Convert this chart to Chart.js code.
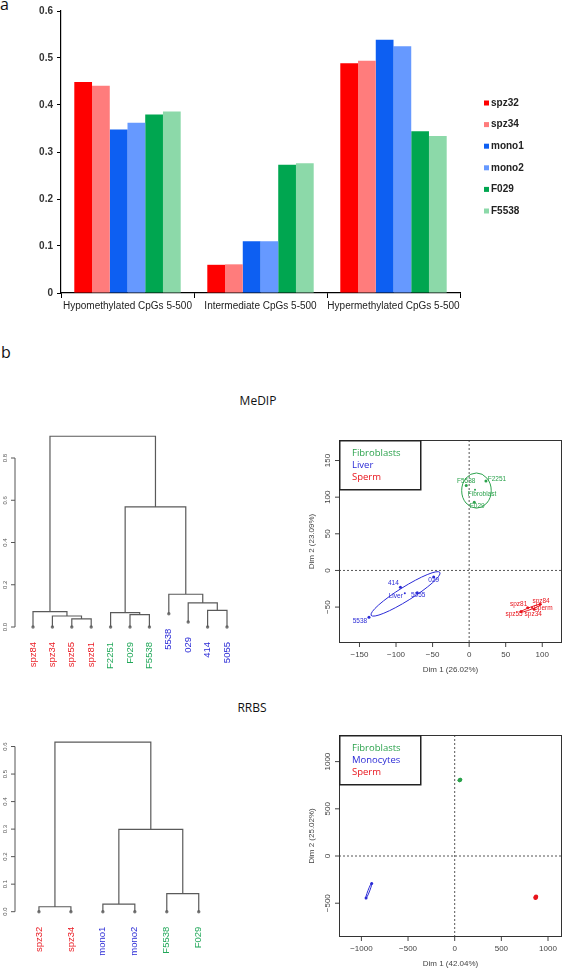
<!DOCTYPE html>
<html>
<head>
<meta charset="utf-8">
<script src="https://cdn.jsdelivr.net/npm/chart.js@4.4.1/dist/chart.umd.min.js"></script>
<style>
  html, body { margin: 0; padding: 0; background: #fff; overflow: hidden; }
  #page { position: relative; width: 566px; height: 969px; }
  canvas { position: absolute; }
  .lbl { position: absolute; font-family: 'Open Sans', sans-serif; color: #111; line-height: 1; white-space: nowrap; }
</style>
</head>
<body>
<div id="page">
  <div class="lbl" style="left:0;top:-4px;font-size:16px">a</div>
  <div class="lbl" style="left:1px;top:344px;font-size:16px">b</div>
  <div class="lbl" style="left:218px;width:80px;text-align:center;top:395px;font-size:12px">MeDIP</div>
  <div class="lbl" style="left:212px;width:80px;text-align:center;top:702px;font-size:12px">RRBS</div>
  <canvas id="bars" width="566" height="330" style="left:0;top:0"></canvas>
  <canvas id="dendMedip" width="280" height="265" style="left:0;top:410px"></canvas>
  <canvas id="pcaMedip" width="276" height="245" style="left:290px;top:430px"></canvas>
  <canvas id="dendRrbs" width="280" height="254" style="left:0;top:715px"></canvas>
  <canvas id="pcaRrbs" width="276" height="244" style="left:290px;top:725px"></canvas>
</div>
<script>
// ---- panel a: fraction of CpGs per methylation class ----
const barCategories = ['Hypomethylated CpGs 5-500', 'Intermediate CpGs 5-500', 'Hypermethylated CpGs 5-500'];
const barSamples = ['spz32', 'spz34', 'mono1', 'mono2', 'F029', 'F5538'];
const spz32Vals = [0.449, 0.060, 0.489];
const spz34Vals = [0.441, 0.061, 0.494];
const mono1Vals = [0.348, 0.110, 0.539];
const mono2Vals = [0.362, 0.110, 0.525];
const f029Vals = [0.380, 0.273, 0.344];
const f5538Vals = [0.386, 0.276, 0.334];
const barTicks = [0, 0.1, 0.2, 0.3, 0.4, 0.5, 0.6];

// ---- panel b: dendrograms (R hclust style merge matrix) ----
const medipLeaves = ['spz84', 'spz34', 'spz55', 'spz81', 'F2251', 'F029', 'F5538', '5538', '029', '414', '5055'];
const medipLeafGroup = ['s', 's', 's', 's', 'f', 'f', 'f', 'l', 'l', 'l', 'l'];
const medipLeafHeight = [0, 0, 0, 0, 0, 0, 0, 0.063, 0.024, 0, 0];
const medipMerge = [[-3, -4], [-2, 1], [-1, 2], [-6, -7], [-5, 4], [-10, -11], [-9, 6], [-8, 7], [5, 8], [3, 9]];
const medipHeight = [0.038, 0.052, 0.073, 0.059, 0.068, 0.079, 0.114, 0.155, 0.569, 0.903];
const medipDendTicks = [0, 0.2, 0.4, 0.6, 0.8];

const rrbsLeaves = ['spz32', 'spz34', 'mono1', 'mono2', 'F5538', 'F029'];
const rrbsLeafGroup = ['s', 's', 'l', 'l', 'f', 'f'];
const rrbsLeafHeight = [0, 0, 0, 0, 0, 0];
const rrbsMerge = [[-1, -2], [-3, -4], [-5, -6], [2, 3], [1, 4]];
const rrbsHeight = [0.018, 0.0275, 0.066, 0.299, 0.616];
const rrbsDendTicks = [0, 0.1, 0.2, 0.3, 0.4, 0.5, 0.6];

// ---- panel b: PCA individuals ----
const medipLegend = ['Fibroblasts', 'Liver', 'Sperm'];
const medipFibroNames = ['F2251', 'F5538', 'F029'];
const medipFibroX = [23, -4, 7];
const medipFibroY = [122, 116, 93];
const medipLiverNames = ['414', '029', '5055', '5538'];
const medipLiverX = [-94, -48.5, -71, -137];
const medipLiverY = [-23, -9, -30.5, -64];
const medipSpermNames = ['spz81', 'spz84', 'spz55', 'spz34'];
const medipSpermX = [80, 97, 71, 89];
const medipSpermY = [-51, -46, -56, -53];
const medipBaryNames = ['Fibroblast', 'Liver', 'Sperm'];
const medipBaryX = [8, -88, 86];
const medipBaryY = [110, -31, -51];
// confidence ellipses: centre, major semi-axis vector, minor/major ratio
const medipEllCx = [10, -87, 84.5];
const medipEllCy = [109, -32, -51.5];
const medipEllAx = [0, 47, 14.5];
const medipEllAy = [24, 29.3, 5.5];
const medipEllRatio = [0.84, 0.17, 0.1];
const medipXTicks = [-150, -100, -50, 0, 50, 100];
const medipYTicks = [-50, 0, 50, 100, 150];

const rrbsLegend = ['Fibroblasts', 'Monocytes', 'Sperm'];
const rrbsFibroX = [52, 60];
const rrbsFibroY = [803, 808];
const rrbsMonoX = [-950, -890];
const rrbsMonoY = [-445, -290];
const rrbsSpermX = [866, 872];
const rrbsSpermY = [-442, -432];
const rrbsEllCx = [56, -920, 869];
const rrbsEllCy = [805, -367, -437];
const rrbsEllAx = [12, 33, 10];
const rrbsEllAy = [16, 85, 18];
const rrbsEllRatio = [0.8, 0.1, 0.8];
const rrbsXTicks = [-1000, -500, 0, 500, 1000];
const rrbsYTicks = [-500, 0, 500, 1000];

const SANS = "'Liberation Sans', Arial, sans-serif";
const HUMAN = "'Open Sans', sans-serif";
const barColors = ['#ff0000', '#ff7c7c', '#0d5ff2', '#6699ff', '#00a650', '#8cd9a9'];
const groupText = { s: '#ea1c24', f: '#22a85a', l: '#2a2ad6' };
const pcaColors = ['#2ba24c', '#2a2ad6', '#e8141c'];

Chart.defaults.animation = false;
Chart.defaults.responsive = false;
Chart.defaults.devicePixelRatio = 1;
Chart.defaults.plugins.legend.display = false;
Chart.defaults.plugins.tooltip.enabled = false;
Chart.defaults.font.family = SANS;

// ---------- bar chart ----------
const barSeries = [spz32Vals, spz34Vals, mono1Vals, mono2Vals, f029Vals, f5538Vals];

const sideLegend = {
  id: 'sideLegend',
  afterDraw(chart) {
    const ctx = chart.ctx;
    ctx.save();
    ctx.font = 'bold 10px ' + SANS;
    ctx.textBaseline = 'middle';
    chart.data.datasets.forEach((ds, i) => {
      const y = 103 + i * 21.6;
      ctx.fillStyle = ds.backgroundColor;
      ctx.fillRect(484, y - 2.5, 5, 5);
      ctx.fillStyle = '#222';
      ctx.fillText(ds.label, 491, y);
    });
    ctx.restore();
  }
};

new Chart(document.getElementById('bars'), {
  type: 'bar',
  data: {
    labels: barCategories,
    datasets: barSamples.map((s, i) => ({
      label: s,
      data: barSeries[i],
      backgroundColor: barColors[i],
      borderWidth: 0,
      categoryPercentage: 0.8,
      barPercentage: 1.0
    }))
  },
  options: {
    layout: { padding: { top: 11, right: 106, left: 0, bottom: 0 } },
    scales: {
      x: {
        grid: { drawOnChartArea: false, offset: true, tickLength: 5, color: '#000' },
        border: { color: '#000', width: 1.2 },
        ticks: { color: '#222', font: { size: 10 }, padding: 2, maxRotation: 0, autoSkip: false },
        afterFit: s => { s.height = 37; }
      },
      y: {
        min: 0, max: 0.6,
        afterBuildTicks: s => { s.ticks = barTicks.map(v => ({ value: v })); },
        ticks: { color: '#333', font: { size: 10, weight: 'bold' }, padding: 4,
                 callback: v => v === 0 ? '0' : v.toFixed(1) },
        grid: { drawOnChartArea: false, tickLength: 4, color: '#000' },
        border: { color: '#000', width: 1.2 },
        afterFit: s => { s.width = 61; }
      }
    }
  },
  plugins: [sideLegend]
});

// ---------- dendrograms ----------
function dendroSegments(merge, height, leafHeight) {
  const mx = [];
  const pts = [];
  const node = k => k < 0 ? [-k, leafHeight[-k - 1]] : [mx[k - 1], height[k - 1]];
  merge.forEach(([a, b], i) => {
    const [xa, ya] = node(a);
    const [xb, yb] = node(b);
    const h = height[i];
    pts.push({ x: xa, y: ya }, { x: xa, y: h }, { x: xb, y: h }, { x: xb, y: yb }, { x: xb, y: null });
    mx.push((xa + xb) / 2);
  });
  return pts;
}

function dendroChart(id, leaves, groups, leafHeight, merge, height, ticks, xMax, yMax, padding) {
  const decor = {
    id: 'decor_' + id,
    afterDatasetsDraw(chart) {
      const { ctx, scales: { x, y } } = chart;
      const ax = 15;
      ctx.save();
      ctx.strokeStyle = '#555';
      ctx.lineWidth = 1;
      ctx.beginPath();
      ctx.moveTo(ax, y.getPixelForValue(ticks[0]));
      ctx.lineTo(ax, y.getPixelForValue(ticks[ticks.length - 1]));
      ticks.forEach(t => {
        const py = y.getPixelForValue(t);
        ctx.moveTo(ax, py);
        ctx.lineTo(ax - 4, py);
      });
      ctx.stroke();
      ctx.fillStyle = '#555';
      ctx.font = '6px ' + SANS;
      ctx.textAlign = 'center';
      ctx.textBaseline = 'middle';
      ticks.forEach(t => {
        ctx.save();
        ctx.translate(ax - 10, y.getPixelForValue(t));
        ctx.rotate(-Math.PI / 2);
        ctx.fillText(t.toFixed(1), 0, 0);
        ctx.restore();
      });
      ctx.font = '9.5px ' + SANS;
      ctx.textAlign = 'right';
      leaves.forEach((name, i) => {
        ctx.save();
        ctx.translate(x.getPixelForValue(i + 1), y.getPixelForValue(leafHeight[i]) + 15);
        ctx.rotate(-Math.PI / 2);
        ctx.fillStyle = groupText[groups[i]];
        ctx.fillText(name, 0, 0);
        ctx.restore();
      });
      ctx.restore();
    }
  };
  new Chart(document.getElementById(id), {
    type: 'scatter',
    data: {
      datasets: [
        {
          data: dendroSegments(merge, height, leafHeight),
          showLine: true, spanGaps: false, pointRadius: 0,
          borderColor: '#5a5a5a', borderWidth: 1.2, clip: false
        },
        {
          data: leaves.map((_, i) => ({ x: i + 1, y: leafHeight[i] })),
          pointRadius: 1.7, pointBackgroundColor: '#777', pointBorderWidth: 0, clip: false
        }
      ]
    },
    options: {
      layout: { padding },
      scales: {
        x: { type: 'linear', min: 0, max: xMax, display: false },
        y: { min: 0, max: yMax, display: false }
      }
    },
    plugins: [decor]
  });
}

dendroChart('dendMedip', medipLeaves, medipLeafGroup, medipLeafHeight, medipMerge, medipHeight,
  medipDendTicks, 12, 1.0, { left: 13.6, right: 33.6, top: 5.75, bottom: 48 });
dendroChart('dendRrbs', rrbsLeaves, rrbsLeafGroup, rrbsLeafHeight, rrbsMerge, rrbsHeight,
  rrbsDendTicks, 7, 0.7, { left: 7, right: 49.3, top: 1.4, bottom: 57.3 });

// ---------- PCA plots ----------
const labelNudge = {
  F2251: [11, -2], F5538: [0, -4], F029: [3, 4], Fibroblast: [7, 4],
  '414': [-7, -4], '029': [0, 3], '5055': [1, 2], '5538': [-9, 4], Liver: [-9, 3],
  spz81: [-9, -4], spz84: [1, -3], spz55: [-7, 3], spz34: [-1, 5], Sperm: [11, 0]
};

function pcaChart(id, cfg) {
  const deco = {
    id: 'pca_' + id,
    beforeDatasetsDraw(chart) {
      const { ctx, chartArea: a, scales: { x, y } } = chart;
      ctx.save();
      ctx.strokeStyle = '#555';
      ctx.lineWidth = 1;
      ctx.setLineDash([2, 2]);
      ctx.beginPath();
      const x0 = x.getPixelForValue(0), y0 = y.getPixelForValue(0);
      ctx.moveTo(x0, a.top); ctx.lineTo(x0, a.bottom);
      ctx.moveTo(a.left, y0); ctx.lineTo(a.right, y0);
      ctx.stroke();
      ctx.restore();
    },
    afterDatasetsDraw(chart) {
      const { ctx, chartArea: a, scales: { x, y } } = chart;
      ctx.save();
      // ellipses
      const E = cfg.ellipses;
      ctx.lineWidth = 1;
      E.cx.forEach((_, i) => {
        const cx = x.getPixelForValue(E.cx[i]), cy = y.getPixelForValue(E.cy[i]);
        const ex = x.getPixelForValue(E.cx[i] + E.ax[i]) - cx;
        const ey = y.getPixelForValue(E.cy[i] + E.ay[i]) - cy;
        const r = Math.hypot(ex, ey);
        ctx.strokeStyle = pcaColors[i];
        ctx.beginPath();
        ctx.ellipse(cx, cy, r, r * E.ratio[i], Math.atan2(ey, ex), 0, 2 * Math.PI);
        ctx.stroke();
      });
      // point labels
      if (cfg.labels) {
        ctx.font = '6.5px ' + SANS;
        ctx.textAlign = 'center';
        ctx.textBaseline = 'middle';
        chart.data.datasets.forEach((ds, di) => {
          if (!ds.names) return;
          ds.data.forEach((p, i) => {
            const n = labelNudge[ds.names[i]] || [0, 0];
            ctx.fillStyle = pcaColors[ds.group];
            ctx.fillText(ds.names[i], x.getPixelForValue(p.x) + n[0], y.getPixelForValue(p.y) + n[1]);
          });
        });
      }
      // box
      ctx.strokeStyle = '#333';
      ctx.lineWidth = 1;
      ctx.strokeRect(a.left + 0.5, a.top + 0.5, a.right - a.left - 1, a.bottom - a.top - 1);
      // axes
      ctx.fillStyle = '#444';
      ctx.font = '8px ' + SANS;
      ctx.textAlign = 'center';
      ctx.textBaseline = 'middle';
      ctx.beginPath();
      cfg.xTicks.forEach(t => {
        const px = x.getPixelForValue(t);
        ctx.moveTo(px, a.bottom); ctx.lineTo(px, a.bottom + 4);
        ctx.fillText(String(t).replace('-', '\u2212'), px, a.bottom + 12);
      });
      cfg.yTicks.forEach(t => {
        const py = y.getPixelForValue(t);
        ctx.moveTo(a.left, py); ctx.lineTo(a.left - 4, py);
        ctx.save();
        ctx.translate(a.left - 11, py);
        ctx.rotate(-Math.PI / 2);
        ctx.fillText(String(t).replace('-', '\u2212'), 0, 0);
        ctx.restore();
      });
      ctx.strokeStyle = '#444';
      ctx.stroke();
      ctx.fillText(cfg.xTitle, (a.left + a.right) / 2, a.bottom + 27);
      ctx.save();
      ctx.translate(a.left - 27, (a.top + a.bottom) / 2);
      ctx.rotate(-Math.PI / 2);
      ctx.fillText(cfg.yTitle, 0, 0);
      ctx.restore();
      // legend box
      ctx.strokeStyle = '#222';
      ctx.lineWidth = 1.5;
      ctx.strokeRect(a.left + 0.75, a.top + 0.75, 81, 49);
      ctx.font = '9.5px ' + HUMAN;
      ctx.textAlign = 'left';
      cfg.legend.forEach((t, i) => {
        ctx.fillStyle = pcaColors[i];
        ctx.fillText(t, a.left + 13, a.top + 13 + i * 12);
      });
      ctx.restore();
    }
  };

  new Chart(document.getElementById(id), {
    type: 'scatter',
    data: {
      datasets: cfg.groups.map(g => ({
        data: g.xs.map((v, i) => ({ x: v, y: g.ys[i] })),
        names: g.names,
        group: g.group,
        pointRadius: g.r || 1.5,
        pointBackgroundColor: pcaColors[g.group],
        pointBorderWidth: 0,
        clip: false
      }))
    },
    options: {
      layout: { padding: cfg.padding },
      scales: {
        x: { type: 'linear', min: cfg.xRange[0], max: cfg.xRange[1], display: false },
        y: { min: cfg.yRange[0], max: cfg.yRange[1], display: false }
      }
    },
    plugins: [deco]
  });
}

pcaChart('pcaMedip', {
  groups: [
    { group: 0, names: medipFibroNames, xs: medipFibroX, ys: medipFibroY },
    { group: 1, names: medipLiverNames, xs: medipLiverX, ys: medipLiverY },
    { group: 2, names: medipSpermNames, xs: medipSpermX, ys: medipSpermY },
    { group: 0, names: medipBaryNames.slice(0, 1), xs: medipBaryX.slice(0, 1), ys: medipBaryY.slice(0, 1), r: 1 },
    { group: 1, names: medipBaryNames.slice(1, 2), xs: medipBaryX.slice(1, 2), ys: medipBaryY.slice(1, 2), r: 1 },
    { group: 2, names: medipBaryNames.slice(2, 3), xs: medipBaryX.slice(2, 3), ys: medipBaryY.slice(2, 3), r: 1 }
  ],
  ellipses: { cx: medipEllCx, cy: medipEllCy, ax: medipEllAx, ay: medipEllAy, ratio: medipEllRatio },
  labels: true,
  legend: medipLegend,
  xTicks: medipXTicks, yTicks: medipYTicks,
  xTitle: 'Dim 1 (26.02%)', yTitle: 'Dim 2 (23.09%)',
  xRange: [-178, 127], yRange: [-99, 178],
  padding: { left: 49, right: 0, top: 10, bottom: 32 }
});

pcaChart('pcaRrbs', {
  groups: [
    { group: 0, xs: rrbsFibroX, ys: rrbsFibroY, r: 2 },
    { group: 1, xs: rrbsMonoX, ys: rrbsMonoY, r: 1.5 },
    { group: 2, xs: rrbsSpermX, ys: rrbsSpermY, r: 2.2 }
  ],
  ellipses: { cx: rrbsEllCx, cy: rrbsEllCy, ax: rrbsEllAx, ay: rrbsEllAy, ratio: rrbsEllRatio },
  labels: false,
  legend: rrbsLegend,
  xTicks: rrbsXTicks, yTicks: rrbsYTicks,
  xTitle: 'Dim 1 (42.04%)', yTitle: 'Dim 2 (25.02%)',
  xRange: [-1240, 1150], yRange: [-858, 1282],
  padding: { left: 49, right: 0, top: 10, bottom: 32 }
});
</script>
</body>
</html>
